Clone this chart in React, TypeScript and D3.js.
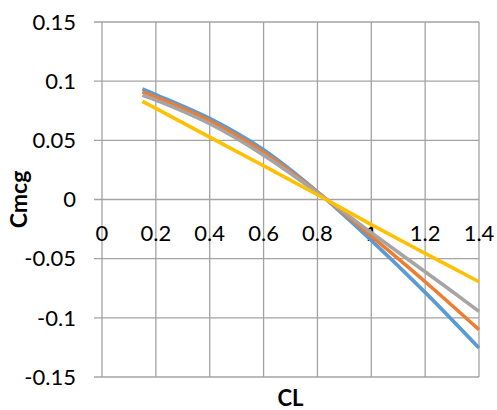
import React from "react";
import * as d3 from "d3";

const CL = [0.15, 0.2, 0.4, 0.6, 0.8, 1.0, 1.2, 1.4];
const seriesBlue = [0.0935, 0.0887, 0.0685, 0.0420, 0.0065, -0.0345, -0.0785, -0.1255];
const seriesOrange = [0.0910, 0.0865, 0.0665, 0.0400, 0.0062, -0.0310, -0.0695, -0.1100];
const seriesGray = [0.0880, 0.0840, 0.0640, 0.0375, 0.0058, -0.0280, -0.0610, -0.0945];
const seriesYellow = [0.0830, 0.0770, 0.0527, 0.0285, 0.0040, -0.0212, -0.0455, -0.0695];
const xTicks = [0, 0.2, 0.4, 0.6, 0.8, 1, 1.2, 1.4];
const yTicks = [0.15, 0.1, 0.05, 0, -0.05, -0.1, -0.15];
const colors = ["#5B9BD5", "#ED7D31", "#A5A5A5", "#FFC000"];

export default function App() {
  const W = 497, H = 410;
  const left = 102, right = 479, top = 22, bottom = 377;
  const x = d3.scaleLinear().domain([0, 1.4]).range([left, right]);
  const y = d3.scaleLinear().domain([-0.15, 0.15]).range([bottom, top]);
  const all = [seriesBlue, seriesOrange, seriesGray, seriesYellow];
  const line = d3
    .line<number>()
    .x((_, i) => x(CL[i]))
    .y((d) => y(d))
    .curve(d3.curveCatmullRom.alpha(0.5));
  const font = "Lato, 'Open Sans', sans-serif";
  const grid = "#a3a3a3";
  return (
    <svg width={W} height={H} style={{ position: "absolute", left: 0, top: 0 }} fontFamily={font}>
      <rect width={W} height={H} fill="#fff" />
      {yTicks.map((t) => (
        <line key={"h" + t} x1={left - 8} x2={right} y1={y(t)} y2={y(t)} stroke={grid} strokeWidth={1.3} />
      ))}
      {xTicks.map((t) => (
        <line key={"v" + t} x1={x(t)} x2={x(t)} y1={top} y2={bottom} stroke={grid} strokeWidth={1.3} />
      ))}
      {yTicks.map((t) => (
        <text key={"yl" + t} x={76} y={y(t)} dy="0.35em" textAnchor="end" fontSize={22} fill="#000">
          {String(t)}
        </text>
      ))}
      {xTicks.map((t) => (
        <text key={"xl" + t} x={x(t)} y={241} textAnchor="middle" fontSize={22} fill="#000">
          {String(t)}
        </text>
      ))}
      {all.map((s, i) => (
        <path key={"s" + i} d={line(s) || ""} fill="none" stroke={colors[i]} strokeWidth={3.6} />
      ))}
      <text x={(left + right) / 2} y={406} textAnchor="middle" fontSize={22} fontWeight="bold" fill="#000">
        CL
      </text>
      <text
        transform={`translate(27, ${(top + bottom) / 2}) rotate(-90)`}
        textAnchor="middle"
        fontSize={23}
        fontWeight="bold"
        fill="#000"
      >
        Cmcg
      </text>
    </svg>
  );
}
